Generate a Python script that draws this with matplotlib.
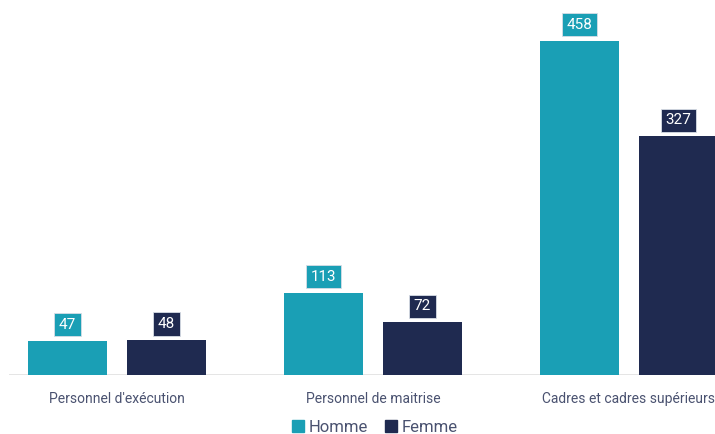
import matplotlib
matplotlib.use("Agg")
import matplotlib.pyplot as plt
import numpy as np
from matplotlib.patches import Patch

categories = ["Personnel d'exécution", "Personnel de maitrise", "Cadres et cadres supérieurs"]
homme = [47, 113, 458]
femme = [48, 72, 327]
series_names = ["Homme", "Femme"]

COL_H = "#1a9fb5"
COL_F = "#1f2a50"
TXT = "#4a5270"

plt.rcParams["font.family"] = ["Roboto", "DejaVu Sans"]

fig = plt.figure(figsize=(7.15, 4.34), dpi=100)
ax = fig.add_axes([9 / 715, 59 / 434, 706 / 715, 375 / 434])

x = np.arange(len(categories))
w = 0.309
off = 0.193

bars_h = ax.bar(x - off, homme, w, color=COL_H, zorder=2)
bars_f = ax.bar(x + off, femme, w, color=COL_F, zorder=2)

# etiquettes de valeur dans une petite boite au-dessus de chaque barre
for bars, col in ((bars_h, COL_H), (bars_f, COL_F)):
    for b in bars:
        v = b.get_height()
        ax.annotate(f"{v:g}", (b.get_x() + b.get_width() / 2, v),
                    xytext=(0, 6.5), textcoords="offset points",
                    ha="center", va="bottom", color="white", fontsize=11,
                    bbox=dict(boxstyle="square,pad=0.3", fc=col, ec="#d8dde6", lw=0.6))

ax.set_xlim(-0.422, 2.336)
ax.set_ylim(0, 514)
for s in ax.spines.values():
    s.set_visible(False)
ax.axhline(0, color="#e0e0e0", lw=1.2, zorder=1)
ax.set_yticks([])
ax.set_xticks(x)
ax.set_xticklabels(categories, color=TXT, fontsize=10)
ax.tick_params(axis="x", length=0, pad=12)

handles = [Patch(color=COL_H), Patch(color=COL_F)]
leg = fig.legend(handles, series_names, loc="center", bbox_to_anchor=(375 / 715, 1 - 427 / 434),
                 ncol=2, frameon=False, fontsize=12, handlelength=0.7, handleheight=0.7,
                 handletextpad=0.3, columnspacing=1.0)
for t in leg.get_texts():
    t.set_color(TXT)

fig.savefig("out.png", dpi=100)
